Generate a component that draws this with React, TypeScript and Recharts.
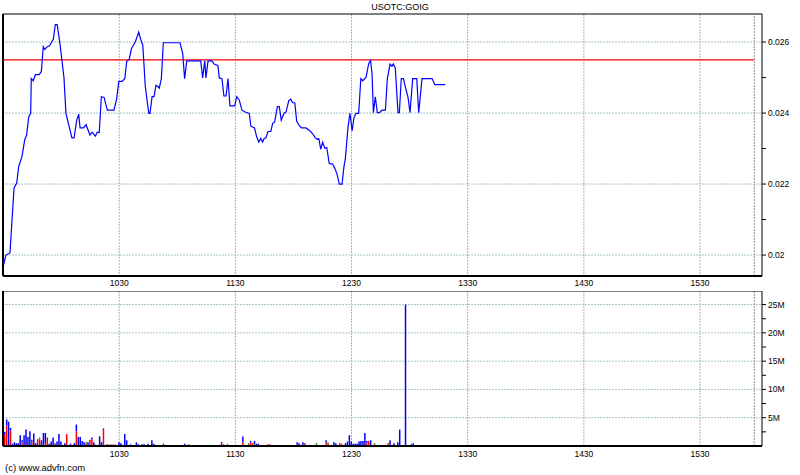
import { Bar, BarChart, CartesianGrid, Line, LineChart, ReferenceLine, XAxis, YAxis } from "recharts"

// minutes since midnight; session opens 9:30
const OPEN = 570
const X_END = 962
const CLOSE_LINE = 958

// price trace: minutes after open, price
const priceMinutes = [
  0, 0.5, 1.5, 3.6, 5.7, 7.1, 8.1, 9.8, 11.2, 12.2,
  13.3, 14.3, 14.6, 15.6, 16.7, 18.7, 19.8, 20.8, 21.5, 22.9,
  23.9, 26, 27, 28, 29.4, 31.5, 32.5, 35.6, 36.7, 38.1,
  39.1, 39.8, 41.5, 42.9, 44.9, 46, 47.7, 48.7, 49.7, 50.8,
  52.2, 53.9, 57.3, 58.7, 59.8, 61.5, 62.9, 63.9, 65.2, 66.3,
  68.3, 70.1, 71.1, 72.2, 73.5, 75.3, 75.9, 77, 78, 79,
  80.1, 80.7, 81.8, 82.8, 91.4, 92.8, 93.8, 94.9, 102.1, 103.1,
  104.2, 104.8, 105.9, 107.9, 109, 111, 111.7, 113.1, 114.1, 115.2,
  116.2, 117.2, 119.7, 120.7, 122, 123.4, 125.1, 127.2, 128, 129.9,
  131, 132.1, 133.1, 134.1, 134.8, 135.8, 136.9, 138.3, 139.3, 140.3,
  141.7, 142.7, 143.7, 145.1, 146.2, 147.6, 148.6, 149.6, 150.7, 151.7,
  153, 154.1, 156.5, 157.9, 158.9, 160, 161.3, 162.3, 163.1, 164.1,
  165.1, 166.2, 167.2, 168.5, 170.3, 171.3, 172.4, 173.7, 175.1, 176.1,
  176.8, 178.2, 179.2, 180.3, 181.3, 182.3, 183.7, 184.8, 185.8, 187.5,
  188.9, 189.8, 190.6, 191.3, 192.3, 193.3, 194.4, 195.8, 197.5, 198.5,
  199.9, 200.9, 201.6, 202.6, 204, 204.7, 205.7, 206.8, 208.1, 209.2,
  210.2, 211.6, 213.7, 214.7, 216.4, 221.6, 223, 228.4,
]
const prices = [
  0.01986, 0.01977, 0.02, 0.02006, 0.02189, 0.02203, 0.02249, 0.02277, 0.02324, 0.02338,
  0.0239, 0.02399, 0.02497, 0.02491, 0.02508, 0.02508, 0.02517, 0.02587, 0.02579, 0.02587,
  0.02589, 0.02608, 0.02649, 0.02649, 0.02596, 0.02499, 0.02399, 0.0233, 0.0233, 0.0238,
  0.02397, 0.02358, 0.02358, 0.02367, 0.02338, 0.02346, 0.02335, 0.02346, 0.02345, 0.02446,
  0.02444, 0.02408, 0.02408, 0.0244, 0.02489, 0.02489, 0.02497, 0.02546, 0.02551, 0.02581,
  0.026, 0.02628, 0.02608, 0.02591, 0.02474, 0.02399, 0.02399, 0.02446, 0.02446, 0.02478,
  0.02474, 0.0247, 0.02497, 0.02598, 0.02598, 0.02568, 0.02497, 0.02547, 0.02547, 0.02499,
  0.02547, 0.02499, 0.02547, 0.02547, 0.02538, 0.02534, 0.02499, 0.02497, 0.02448, 0.02448,
  0.02497, 0.0242, 0.0242, 0.02446, 0.02437, 0.02408, 0.02403, 0.02399, 0.02363, 0.02358,
  0.02333, 0.02318, 0.02328, 0.02318, 0.02328, 0.0233, 0.02348, 0.02348, 0.02371, 0.02375,
  0.02418, 0.02418, 0.0238, 0.02399, 0.02403, 0.02435, 0.02439, 0.02429, 0.02429, 0.02377,
  0.02365, 0.02358, 0.02358, 0.02352, 0.02348, 0.02341, 0.0233, 0.02326, 0.02328, 0.02298,
  0.02318, 0.02301, 0.02303, 0.02258, 0.02256, 0.02245, 0.0223, 0.022, 0.022, 0.02249,
  0.02271, 0.02361, 0.02399, 0.0235, 0.02388, 0.02399, 0.02399, 0.02497, 0.02491, 0.02501,
  0.0254, 0.02548, 0.02512, 0.02401, 0.02446, 0.02401, 0.02401, 0.02408, 0.02408, 0.02497,
  0.02538, 0.02532, 0.02538, 0.02527, 0.02401, 0.02401, 0.02497, 0.02497, 0.02467, 0.02444,
  0.02401, 0.02497, 0.02497, 0.02401, 0.02497, 0.02497, 0.0248, 0.0248,
]
const prevClose = 0.0255

// volume per minute after open, in millions: [minute, volume]
const volBlue = [
  [0, 0.5], [1, 0.5], [2, 1.1], [3, 4.3], [4, 0.5], [5, 0.4], [6, 0.65], [7, 0.5], [8, 0.5], [9, 1.9],
  [10, 0.4], [11, 1.9], [12, 2.9], [13, 1.6], [14, 2.6], [15, 0.3], [16, 2.2], [17, 0.5], [20, 1.0], [21, 2.3],
  [22, 1.8], [24, 0.4], [25, 0.8], [26, 1.5], [28, 0.8], [29, 2.1], [30, 0.8], [32, 0.5], [35, 0.4], [37, 0.5],
  [38, 1.2], [39, 1.6], [40, 1.6], [41, 0.9], [42, 0.65], [44, 0.65], [46, 0.3], [47, 0.65], [50, 1.7], [51, 0.7],
  [52, 0.3], [54, 0.3], [60, 0.65], [61, 0.5], [63, 2.1], [64, 1.0], [66, 0.3], [69, 0.65], [70, 0.3], [72, 0.3],
  [73, 0.3], [75, 0.4], [77, 1.0], [78, 0.4], [83, 0.4], [94, 0.4], [113, 0.3], [116, 0.3], [124, 1.0], [128, 0.3],
  [130, 0.6], [131, 0.4], [132, 0.4], [152, 0.35], [153, 0.5], [155, 0.65], [156, 0.2], [167, 0.4], [171, 0.65], [172, 0.5],
  [177, 0.5], [178, 0.8], [179, 1.9], [180, 0.8], [181, 0.4], [182, 0.4], [183, 0.4], [184, 0.8], [185, 0.9], [186, 0.9],
  [187, 2.3], [188, 0.4], [190, 1.0], [200, 1.0], [202, 0.5], [204, 0.65], [205, 2.9], [208, 25], [211, 0.3], [212, 0.5],
]
const volRed = [
  [1, 2.0], [2, 3.6], [4, 2.7], [10, 0.6], [15, 0.8], [18, 1.2], [19, 1.2], [22, 0.5], [23, 1.5], [27, 0.5],
  [33, 2.1], [38, 2.6], [43, 0.4], [45, 1.1], [46, 1.2], [48, 0.25], [52, 2.8], [55, 0.25], [56, 0.25], [57, 0.25],
  [58, 0.25], [113, 0.4], [114, 0.3], [124, 0.7], [127, 0.3], [128, 0.6], [129, 0.5], [137, 0.3], [138, 0.3], [152, 0.3],
  [156, 0.3], [167, 0.6], [168, 0.4], [174, 0.5], [175, 0.4], [188, 0.5], [189, 0.9], [192, 0.3], [199, 0.5],
]
const volGreen = [
  [0, 4.5], [19, 0.3], [43, 0.25], [96, 0.3], [127, 0.2], [130, 0.3], [162, 0.5], [168, 0.25], [192, 0.2],
]

const timeTicks = [630, 690, 750, 810, 870, 930]
const priceTicks = [0.02, 0.021, 0.022, 0.023, 0.024, 0.025, 0.026]
const priceLabels = [0.02, 0.022, 0.024, 0.026]
const volTicks = [2.5, 5, 7.5, 10, 12.5, 15, 17.5, 20, 22.5, 25]
const volLabels = [5, 10, 15, 20, 25]

const PRICE_MIN = 0.01941
const PRICE_MAX = 0.02679
const VOL_MAX = 27.4

const priceRows = priceMinutes.map((m, i) => ({ t: OPEN + m, price: prices[i] }))

const volMap = new Map<number, { t: number; red: number; green: number; blue: number }>()
const addVol = (list: number[][], key: "red" | "green" | "blue") => {
  list.forEach(([m, v]) => {
    if (!volMap.has(m)) volMap.set(m, { t: OPEN + m, red: 0, green: 0, blue: 0 })
    volMap.get(m)![key] = v
  })
}
addVol(volRed, "red")
addVol(volGreen, "green")
addVol(volBlue, "blue")
const volRows = [...volMap.values()].sort((a, b) => a.t - b.t)

const fmtTime = (v: number) => `${Math.floor(v / 60)}${String(v % 60).padStart(2, "0")}`
const font = "'Liberation Sans', Arial, sans-serif"
const tickStyle = { fontSize: 8.5, fill: "#000", fontFamily: font }

export default function App() {
  return (
    <div style={{ position: "absolute", left: 0, top: 0, width: 800, height: 475, background: "#fff", fontFamily: font }}>
      <div style={{ position: "absolute", left: 0, top: 2, width: 800, textAlign: "center", fontSize: 9 }}>USOTC:GOIG</div>

      <div style={{ position: "absolute", left: 0, top: 0 }}>
        <LineChart width={800} height={290} data={priceRows} margin={{ top: 14, right: 0, bottom: 0, left: 3 }}>
          <CartesianGrid vertical={false} horizontalValues={priceLabels} stroke="#a8c6ca" strokeDasharray="2 1" />
          <CartesianGrid horizontal={false} verticalValues={timeTicks} stroke="#b0b0b0" strokeDasharray="2 1" />
          <XAxis
            dataKey="t"
            type="number"
            domain={[OPEN, X_END]}
            allowDataOverflow
            ticks={timeTicks}
            tickFormatter={fmtTime}
            height={14}
            tickSize={0}
            tickMargin={4}
            tick={tickStyle}
            axisLine={{ stroke: "#000", strokeWidth: 2 }}
          />
          <YAxis
            orientation="right"
            type="number"
            domain={[PRICE_MIN, PRICE_MAX]}
            allowDataOverflow
            ticks={priceTicks}
            tickFormatter={(v: number) => (priceLabels.includes(v) ? String(v) : "")}
            width={38}
            tickSize={4}
            tick={tickStyle}
            tickLine={{ stroke: "#000" }}
            axisLine={{ stroke: "#000" }}
          />
          <ReferenceLine x={CLOSE_LINE} stroke="#909090" strokeDasharray="2 1" />
          <ReferenceLine y={PRICE_MAX} stroke="#000" />
          <ReferenceLine x={OPEN} stroke="#000" strokeWidth={2} />
          <ReferenceLine
            segment={[
              { x: OPEN, y: prevClose },
              { x: CLOSE_LINE, y: prevClose },
            ]}
            stroke="#ff0000"
            strokeWidth={1.2}
          />
          <Line type="linear" dataKey="price" stroke="#0000ff" strokeWidth={1.2} dot={false} isAnimationActive={false} />
        </LineChart>
      </div>

      <div style={{ position: "absolute", left: 0, top: 291 }}>
        <BarChart width={800} height={184} data={volRows} margin={{ top: 0, right: 0, bottom: 0, left: 3 }} barSize={1.5}>
          <CartesianGrid vertical={false} horizontalValues={volLabels} stroke="#a8c6ca" strokeDasharray="2 1" />
          <CartesianGrid horizontal={false} verticalValues={timeTicks} stroke="#b0b0b0" strokeDasharray="2 1" />
          <XAxis
            dataKey="t"
            type="number"
            domain={[OPEN, X_END]}
            allowDataOverflow
            ticks={timeTicks}
            tickFormatter={fmtTime}
            height={29}
            tickSize={0}
            tickMargin={5}
            tick={tickStyle}
            axisLine={{ stroke: "#000", strokeWidth: 2 }}
          />
          <YAxis
            orientation="right"
            type="number"
            domain={[0, VOL_MAX]}
            allowDataOverflow
            ticks={volTicks}
            tickFormatter={(v: number) => (volLabels.includes(v) ? `${v}M` : "")}
            width={38}
            tickSize={4}
            tick={tickStyle}
            tickLine={{ stroke: "#000" }}
            axisLine={{ stroke: "#000" }}
          />
          <ReferenceLine x={CLOSE_LINE} stroke="#909090" strokeDasharray="2 1" />
          <ReferenceLine y={VOL_MAX} stroke="#000" />
          <ReferenceLine x={OPEN} stroke="#000" strokeWidth={2} />
          <Bar dataKey="red" stackId="v" fill="#ff0000" isAnimationActive={false} />
          <Bar dataKey="green" stackId="v" fill="#00a000" isAnimationActive={false} />
          <Bar dataKey="blue" stackId="v" fill="#0000ff" isAnimationActive={false} />
        </BarChart>
      </div>

      <div style={{ position: "absolute", left: 5, top: 462, fontSize: 9.5 }}>(c) www.advfn.com</div>
    </div>
  )
}
